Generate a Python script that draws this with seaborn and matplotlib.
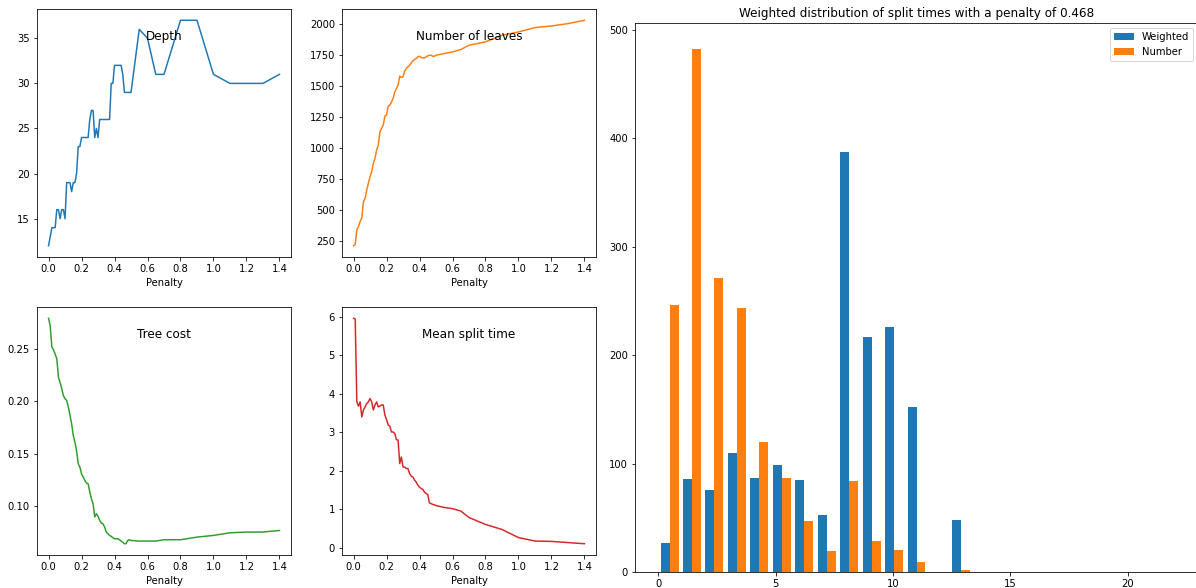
import numpy as np
import matplotlib
matplotlib.use('Agg')
import matplotlib.pyplot as plt
import seaborn as sns

# Penalty grid (fine steps up to 0.5, then coarse)
penalty = [0.00, 0.01, 0.02, 0.03, 0.04, 0.05, 0.06, 0.07, 0.08, 0.09,
           0.10, 0.11, 0.12, 0.13, 0.14, 0.15, 0.16, 0.17, 0.18, 0.19,
           0.20, 0.21, 0.22, 0.23, 0.24, 0.25, 0.26, 0.27, 0.28, 0.29,
           0.30, 0.31, 0.32, 0.33, 0.34, 0.35, 0.36, 0.37, 0.38, 0.39,
           0.40, 0.41, 0.42, 0.43, 0.44, 0.45, 0.46, 0.47, 0.48, 0.49,
           0.50, 0.55, 0.60, 0.65, 0.70, 0.80, 0.90, 1.00, 1.10, 1.20,
           1.30, 1.40]

depth = [12, 13, 14, 14, 14, 16, 16, 15, 16, 16,
         15, 19, 19, 19, 18, 19, 19, 20, 23, 23,
         24, 24, 24, 24, 24, 26, 27, 27, 24, 25,
         24, 26, 26, 26, 26, 26, 26, 26, 30, 30,
         32, 32, 32, 32, 32, 31, 29, 29, 29, 29,
         29, 36, 35, 31, 31, 37, 37, 31, 30, 30,
         30, 31]

n_leaves = [210, 218, 338, 365, 405, 432, 566, 593, 660, 714,
            767, 807, 874, 914, 982, 1022, 1129, 1156, 1183, 1255,
            1263, 1335, 1343, 1370, 1397, 1450, 1477, 1504, 1577, 1566,
            1571, 1617, 1638, 1652, 1665, 1684, 1700, 1711, 1719, 1732,
            1737, 1727, 1724, 1724, 1732, 1740, 1745, 1745, 1737, 1737,
            1745, 1759, 1772, 1791, 1826, 1853, 1906, 1933, 1968, 1981,
            2000, 2027]

tree_cost = [0.279, 0.272, 0.2516, 0.249, 0.245, 0.2405, 0.223, 0.218, 0.212, 0.2056,
             0.2024, 0.2008, 0.1945, 0.1866, 0.1786, 0.1675, 0.161, 0.153, 0.1406, 0.1374,
             0.131, 0.1279, 0.1247, 0.1222, 0.1216, 0.1136, 0.1073, 0.1025, 0.0899, 0.093,
             0.0905, 0.0867, 0.0841, 0.0835, 0.0803, 0.0756, 0.074, 0.0724, 0.0715, 0.0702,
             0.0692, 0.0692, 0.0692, 0.0683, 0.067, 0.066, 0.0645, 0.0645, 0.0676, 0.0683,
             0.0676, 0.067, 0.067, 0.067, 0.0683, 0.0683, 0.0708, 0.0724, 0.0749, 0.0756,
             0.0756, 0.0771]

mean_split = [5.96, 5.94, 3.79, 3.68, 3.79, 3.40, 3.58, 3.66, 3.75, 3.79,
              3.88, 3.79, 3.58, 3.71, 3.79, 3.66, 3.68, 3.71, 3.71, 3.45,
              3.33, 3.19, 3.16, 3.01, 3.01, 2.97, 2.81, 2.80, 2.19, 2.36,
              2.10, 2.10, 2.06, 2.06, 1.93, 1.86, 1.84, 1.76, 1.71, 1.63,
              1.58, 1.54, 1.52, 1.45, 1.41, 1.39, 1.17, 1.15, 1.13, 1.12,
              1.10, 1.05, 1.02, 0.96, 0.79, 0.61, 0.48, 0.27, 0.18, 0.17,
              0.14, 0.11]

# Histogram of split times (counts per bin), 23 bins over [0, 22]
bin_edges = np.linspace(0, 22, 24)
weighted = [27, 86, 76, 110, 87, 99, 85, 53, 387, 217, 226, 152, 0, 48,
            0, 0, 0, 0, 0, 0, 0, 0, 0]
number = [246, 482, 271, 243, 120, 87, 47, 19, 84, 29, 20, 9, 0, 2,
          0, 0, 0, 0, 0, 0, 0, 0, 0]

W, H = 1196, 588
fig = plt.figure(figsize=(W / 72, H / 72), dpi=72)

def px_axes(left, top, right, bottom):
    return fig.add_axes([left / W, 1 - bottom / H, (right - left) / W, (bottom - top) / H])

small = [
    (px_axes(37, 9, 291, 257), depth, 'C0', 'Depth'),
    (px_axes(342, 9, 596, 257), n_leaves, 'C1', 'Number of leaves'),
    (px_axes(37, 307, 291, 555), tree_cost, 'C2', 'Tree cost'),
    (px_axes(342, 307, 596, 555), mean_split, 'C3', 'Mean split time'),
]
for ax, vals, col, name in small:
    sns.lineplot(x=penalty, y=vals, color=col, ax=ax, linewidth=1.5)
    ax.set_title(name, y=0.85, fontsize=12)
    ax.set_xlabel('Penalty')
    ax.set_xticks([0.0, 0.2, 0.4, 0.6, 0.8, 1.0, 1.2, 1.4])

# Big histogram on the right
ax = px_axes(635, 23, 1198, 572)
centers = (bin_edges[:-1] + bin_edges[1:]) / 2
ax.hist([centers, centers], bins=bin_edges, weights=[weighted, number],
        color=['C0', 'C1'], label=['Weighted', 'Number'])
ax.set_xticks([0, 5, 10, 15, 20])
ax.set_title('Weighted distribution of split times with a penalty of 0.468', fontsize=12)
ax.legend(loc='upper right')

fig.savefig('out.png', dpi=72)
